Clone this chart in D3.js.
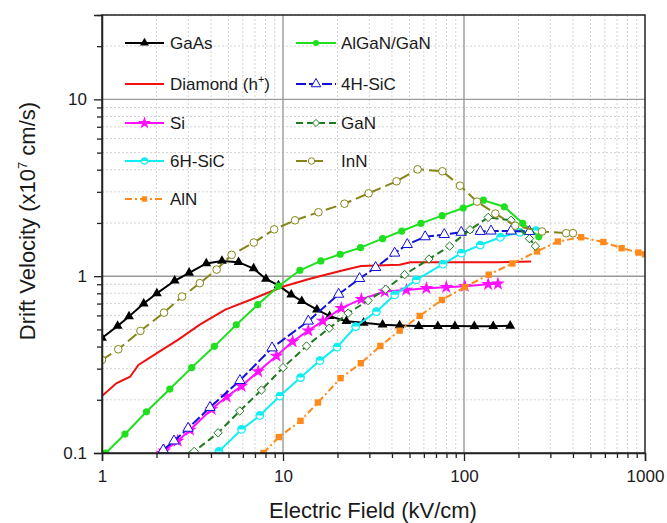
<!DOCTYPE html>
<html>
<head>
<meta charset="utf-8">
<script src="https://cdn.jsdelivr.net/npm/d3@7"></script>
<style>
  body { margin: 0; background: #fff; }
  text { font-family: "Liberation Sans", Arial, sans-serif; fill: #1a1a1a; }
</style>
</head>
<body>
<div id="chart"></div>
<script>
// Data (field in kV/cm, velocity in 1e7 cm/s)
const gaasField = [1, 1.22, 1.41, 1.70, 2.01, 2.52, 3.03, 3.77, 4.6, 5.68, 6.88, 8.05, 9.44, 11.1, 12.7, 15.4, 18.1, 22.4, 27.9, 35.5, 44.1, 56.2, 71.7, 89.1, 114, 145, 180]
const gaasVel = [0.447, 0.523, 0.592, 0.70, 0.80, 0.942, 1.045, 1.18, 1.22, 1.20, 1.105, 0.964, 0.886, 0.787, 0.722, 0.647, 0.594, 0.556, 0.545, 0.532, 0.526, 0.522, 0.522, 0.522, 0.521, 0.521, 0.524]

const diamondField = [1, 1.2, 1.43, 1.59, 2.02, 2.64, 3.47, 4.80, 7.0, 9.95, 14.1, 20.7, 27.0, 44.1, 50.6, 79.9, 153, 235]
const diamondVel = [0.21, 0.248, 0.27, 0.315, 0.368, 0.438, 0.532, 0.647, 0.753, 0.871, 0.966, 1.07, 1.14, 1.16, 1.20, 1.20, 1.20, 1.21]

const siField = [2.15, 2.21, 2.62, 3.06, 4.03, 4.88, 5.9, 7.29, 9.2, 11.3, 13.8, 16.6, 21, 27.1, 36.5, 48, 62, 79.8, 101, 136, 154]
const siVel = [0.1, 0.103, 0.117, 0.135, 0.177, 0.208, 0.239, 0.289, 0.354, 0.427, 0.492, 0.558, 0.659, 0.741, 0.818, 0.836, 0.855, 0.867, 0.878, 0.90, 0.905]

const sic6hField = [4.42, 5.9, 7.45, 9.6, 12.5, 16, 19.9, 25.2, 32.8, 41.4, 54.5, 76.5, 96.7, 123, 159, 203, 250]
const sic6hVel = [0.102, 0.136, 0.163, 0.21, 0.267, 0.333, 0.397, 0.519, 0.63, 0.784, 0.953, 1.17, 1.35, 1.50, 1.66, 1.77, 1.81]

const alnField = [7.8, 9.48, 12.5, 15.6, 20.8, 26.9, 34.5, 44.1, 56.9, 75.5, 101, 137, 185, 253, 330, 444, 589, 743, 920, 1000]
const alnVel = [0.1, 0.123, 0.152, 0.193, 0.265, 0.322, 0.403, 0.492, 0.596, 0.734, 0.867, 1.02, 1.18, 1.38, 1.57, 1.66, 1.56, 1.44, 1.36, 1.33]

const alganField = [1.05, 1.34, 1.76, 2.37, 3.13, 4.18, 5.52, 7.25, 9.44, 12.4, 16.2, 20.7, 26.8, 35.5, 45.3, 57.8, 75.7, 99, 128, 167, 211, 259]
const alganVel = [0.1, 0.128, 0.171, 0.23, 0.304, 0.401, 0.531, 0.69, 0.878, 1.08, 1.22, 1.33, 1.45, 1.63, 1.80, 1.99, 2.20, 2.43, 2.69, 2.47, 1.99, 1.67]

const sic4hField = [2.18, 2.5, 2.99, 3.95, 5.78, 8.7, 13.8, 20.3, 26.5, 32.5, 41.4, 48.6, 61, 77.8, 96.6, 123, 141, 182, 230]
const sic4hVel = [0.104, 0.117, 0.138, 0.181, 0.257, 0.393, 0.557, 0.79, 0.97, 1.12, 1.35, 1.51, 1.67, 1.72, 1.77, 1.79, 1.80, 1.80, 1.79]

const ganField = [3.1, 3.23, 4.38, 5.77, 7.6, 10.0, 13.5, 18, 22.9, 29.5, 36.9, 47, 64, 83.3, 108, 136, 182, 230, 248]
const ganVel = [0.098, 0.102, 0.130, 0.173, 0.227, 0.304, 0.403, 0.508, 0.618, 0.728, 0.844, 1.02, 1.25, 1.48, 1.83, 2.15, 2.07, 1.63, 1.48]

const innField = [1, 1.23, 1.63, 2.2, 2.77, 3.47, 4.3, 5.2, 6.9, 8.94, 11.65, 15.7, 21.85, 29.7, 42.4, 55.4, 76, 95, 118, 149, 192, 270, 367, 400]
const innVel = [0.336, 0.386, 0.49, 0.622, 0.767, 0.913, 1.09, 1.32, 1.55, 1.84, 2.07, 2.30, 2.57, 2.94, 3.44, 4.02, 3.92, 3.25, 2.64, 2.26, 1.93, 1.79, 1.75, 1.75]

const xMajorTicks = [1, 10, 100, 1000]
const yMajorTicks = [0.1, 1, 10]

const series = [
  { name: "GaAs", field: gaasField, vel: gaasVel, color: "#000000", dash: null, marker: "tri", col: 0, row: 0 },
  { name: "Diamond (h", sup: "+", close: ")", field: diamondField, vel: diamondVel, color: "#f01010", dash: null, marker: null, col: 0, row: 1 },
  { name: "Si", field: siField, vel: siVel, color: "#ff10ff", dash: null, marker: "star", col: 0, row: 2 },
  { name: "6H-SiC", field: sic6hField, vel: sic6hVel, color: "#10eef4", dash: null, marker: "half", col: 0, row: 3 },
  { name: "AlN", field: alnField, vel: alnVel, color: "#ff8a1c", dash: "7,3,2,3", marker: "square", col: 0, row: 4 },
  { name: "AlGaN/GaN", field: alganField, vel: alganVel, color: "#1ee01e", dash: null, marker: "dot", col: 1, row: 0 },
  { name: "4H-SiC", field: sic4hField, vel: sic4hVel, color: "#1010d8", dash: "10,3", marker: "opentri", col: 1, row: 1 },
  { name: "GaN", field: ganField, vel: ganVel, color: "#1e7a1e", dash: "7,4", marker: "diamond", col: 1, row: 2 },
  { name: "InN", field: innField, vel: innVel, color: "#85851a", dash: "11,5", marker: "ring", col: 1, row: 3 }
]

const margin = { top: 15, bottom: 70, left: 102, right: 22 }
const width = 667 - margin.left - margin.right
const height = 523 - margin.top - margin.bottom

const svg = d3.select("#chart").append("svg")
  .attr("width", 667).attr("height", 523)

const g = svg.append("g").attr("transform", `translate(${margin.left},${margin.top})`)

const xscale = d3.scaleLog().domain([1, 1000]).range([0, width])
const yscale = d3.scaleLog().domain([0.1, 30]).range([height, 0])

// minor / major tick values
const xAll = []
for (let d = 1; d < 1000; d *= 10) for (let k = 1; k < 10; k++) xAll.push(d * k)
xAll.push(1000)
const yAll = []
for (let d = 0.1; d < 20; d *= 10) for (let k = 1; k < 10; k++) if (d * k <= 30.0001) yAll.push(+(d * k).toPrecision(2))
const isMajor = (v) => Math.abs(Math.log10(v) - Math.round(Math.log10(v))) < 1e-6

// Grid
const grid = g.append("g")
grid.selectAll(".xminor").data(xAll.filter((v) => !isMajor(v))).join("line")
  .attr("x1", (d) => xscale(d)).attr("x2", (d) => xscale(d))
  .attr("y1", 0).attr("y2", height)
  .attr("stroke", "#d4d4d4").attr("stroke-dasharray", "2,2").attr("stroke-width", 1)
grid.selectAll(".yminor").data(yAll.filter((v) => !isMajor(v))).join("line")
  .attr("y1", (d) => yscale(d)).attr("y2", (d) => yscale(d))
  .attr("x1", 0).attr("x2", width)
  .attr("stroke", "#d4d4d4").attr("stroke-dasharray", "2,2").attr("stroke-width", 1)
grid.selectAll(".xmajor").data([10, 100]).join("line")
  .attr("x1", (d) => xscale(d)).attr("x2", (d) => xscale(d))
  .attr("y1", 0).attr("y2", height)
  .attr("stroke", "#9a9a9a").attr("stroke-width", 1.4)
grid.selectAll(".ymajor").data([1, 10]).join("line")
  .attr("y1", (d) => yscale(d)).attr("y2", (d) => yscale(d))
  .attr("x1", 0).attr("x2", width)
  .attr("stroke", "#9a9a9a").attr("stroke-width", 1.4)

// Clip
svg.append("defs").append("clipPath").attr("id", "plot")
  .append("rect").attr("width", width).attr("height", height)

const plot = g.append("g").attr("clip-path", "url(#plot)")

const line = d3.line().x((d) => xscale(d.x)).y((d) => yscale(d.y))

function drawMarker(sel, s, size) {
  const c = s.color
  if (s.marker === "tri") {
    sel.append("path").attr("d", d3.symbol(d3.symbolTriangle, size * 42)).attr("fill", c)
  } else if (s.marker === "opentri") {
    sel.append("path").attr("d", d3.symbol(d3.symbolTriangle, size * 46)).attr("fill", "#fff").attr("stroke", c).attr("stroke-width", 1)
  } else if (s.marker === "star") {
    sel.append("path").attr("d", d3.symbol(d3.symbolStar, size * 60)).attr("fill", c)
  } else if (s.marker === "dot") {
    sel.append("circle").attr("r", 3.6 * size).attr("fill", c)
  } else if (s.marker === "ring") {
    sel.append("circle").attr("r", 3.8 * size).attr("fill", "#fff").attr("stroke", c).attr("stroke-width", 1)
  } else if (s.marker === "half") {
    const r = 3.8 * size
    sel.append("circle").attr("r", r).attr("fill", "#fff").attr("stroke", c).attr("stroke-width", 1.2)
    sel.append("path").attr("d", `M${-r},0A${r},${r} 0 0 1 ${r},0Z`).attr("fill", c)
  } else if (s.marker === "square") {
    sel.append("rect").attr("x", -3.2 * size).attr("y", -3.2 * size)
      .attr("width", 6.4 * size).attr("height", 6.4 * size).attr("fill", c)
  } else if (s.marker === "diamond") {
    const r = 4.2 * size
    sel.append("path").attr("d", `M0,${-r}L${r},0L0,${r}L${-r},0Z`).attr("fill", "#fff").attr("stroke", c).attr("stroke-width", 1)
  }
}

series.forEach((s) => {
  const pts = s.field.map((f, i) => ({ x: f, y: s.vel[i] }))
  plot.append("path").datum(pts)
    .attr("d", line)
    .attr("fill", "none")
    .attr("stroke", s.color)
    .attr("stroke-width", 2)
    .attr("stroke-dasharray", s.dash)
  if (s.marker) {
    plot.append("g").selectAll("g").data(pts).join("g")
      .attr("transform", (d) => `translate(${xscale(d.x)},${yscale(d.y)})`)
      .each(function () { drawMarker(d3.select(this), s, 1) })
  }
})

// Frame
g.append("rect").attr("width", width).attr("height", height)
  .attr("fill", "none").attr("stroke", "#222").attr("stroke-width", 1.5)

// Axes
const xaxis = d3.axisBottom(xscale).tickValues(xAll)
  .tickFormat((d) => isMajor(d) ? d3.format("d")(d) : "")
  .tickSize(8).tickPadding(9)
const gx = g.append("g").attr("transform", `translate(0,${height})`).call(xaxis)
gx.selectAll(".tick line").attr("y2", (d) => isMajor(d) ? 8 : 5)

const yaxis = d3.axisLeft(yscale).tickValues(yAll)
  .tickFormat((d) => isMajor(d) ? (d < 1 ? "0.1" : d3.format("d")(d)) : "")
  .tickSize(8).tickPadding(7)
const gy = g.append("g").call(yaxis)
gy.selectAll(".tick line").attr("x2", (d) => isMajor(d) ? -8 : -5)

;[gx, gy].forEach((a) => {
  a.select(".domain").attr("stroke", "#222").attr("stroke-width", 1.5)
  a.selectAll(".tick line").attr("stroke", "#222").attr("stroke-width", 1.3)
  a.selectAll(".tick text").style("font-family", "Liberation Sans, Arial, sans-serif")
    .style("font-size", "17px").attr("fill", "#1a1a1a")
})

// Axis titles
svg.append("text").attr("x", 373).attr("y", 518)
  .attr("text-anchor", "middle").style("font-size", "22px")
  .text("Electric Field (kV/cm)")

const yt = svg.append("text").attr("transform", "translate(35,221) rotate(-90)")
  .attr("text-anchor", "middle").style("font-size", "22px")
yt.append("tspan").text("Drift Velocity (x10")
yt.append("tspan").attr("dy", -8).style("font-size", "13px").text("7")
yt.append("tspan").attr("dy", 8).text(" cm/s)")

// Legend
const legRows = [43, 84, 123, 161, 199]
const legCols = [{ x1: 125, x2: 164, tx: 170 }, { x1: 296, x2: 336, tx: 341 }]
series.forEach((s) => {
  const c = legCols[s.col]
  const y = legRows[s.row]
  const lg = svg.append("g")
  const x2 = s.name === "InN" ? 327 : c.x2
  lg.append("line").attr("x1", c.x1).attr("x2", x2).attr("y1", y).attr("y2", y)
    .attr("stroke", s.color).attr("stroke-width", 2).attr("stroke-dasharray", s.dash)
  if (s.marker) {
    const m = lg.append("g").attr("transform", `translate(${(c.x1 + x2) / 2},${y})`)
    drawMarker(m, s, 0.85)
  }
  const t = lg.append("text").attr("x", c.tx).attr("y", y).attr("dy", "0.36em").style("font-size", "17px")
  t.append("tspan").text(s.name)
  if (s.sup) {
    t.append("tspan").attr("dy", -7).style("font-size", "11px").text(s.sup)
    t.append("tspan").attr("dy", 7).text(s.close)
  }
})
</script>
</body>
</html>
